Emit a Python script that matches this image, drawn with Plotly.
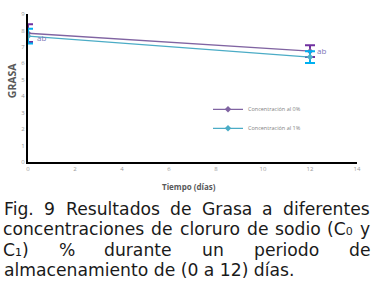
import plotly.graph_objects as go

# ---- data ----
dias = [0, 12]
grasa_c0 = [7.83, 6.74]
err_c0 = [0.54, 0.36]
grasa_c1 = [7.65, 6.38]
err_c1 = [0.45, 0.36]
series_names = ["Concentración al 0%", "Concentración al 1%"]
letras = ["ab", "ab"]
letras_x = [0.57, 12.5]
letras_y = [7.6, 6.76]
x_ticks = [0, 2, 4, 6, 8, 10, 12, 14]
y_ticks = [0, 1, 2, 3, 4, 5, 6, 7, 8, 9]

caption_lines = [
    "Fig. 9 Resultados de Grasa a diferentes",
    "concentraciones de cloruro de sodio (C₀ y",
    "C₁) % durante un periodo de",
    "almacenamiento de (0 a 12) días.",
]

W, H = 374, 284
L, R, T, B = 28, 17, 10, 122
PW, PH = W - L - R, H - T - B

def px_x(px):
    return (px - L) / PW

def px_y(py):
    return (H - B - py) / PH

# approximate DejaVu Sans advance widths (em) for justifying the caption
ADV = {' ': .318, 'F': .575, 'i': .278, 'g': .635, '.': .318, '9': .636, 'R': .695,
       'e': .615, 's': .521, 'u': .634, 'l': .278, 't': .392, 'a': .613, 'd': .635,
       'o': .612, 'G': .775, 'r': .411, 'f': .352, 'n': .634, 'c': .550, 'p': .635,
       'y': .592, '(': .390, ')': .390, 'C': .698, '%': .950, 'm': .974, 'í': .278,
       '0': .636, '1': .636, '2': .636, '₀': .401, '₁': .401}

def text_w(s, size):
    return sum(ADV.get(ch, .6) for ch in s) * size

fig = go.Figure()
fig.add_trace(go.Scatter(
    x=dias, y=grasa_c0, name=series_names[0], mode="lines+markers",
    line=dict(color="#8064A2", width=1.3),
    marker=dict(symbol="diamond", size=5, color="#8064A2"),
    error_y=dict(type="data", array=err_c0, visible=True, color="#7030A0",
                 thickness=2, width=5),
))
fig.add_trace(go.Scatter(
    x=dias, y=grasa_c1, name=series_names[1], mode="lines+markers",
    line=dict(color="#4BACC6", width=1.3),
    marker=dict(symbol="diamond", size=5, color="#4BACC6"),
    error_y=dict(type="data", array=err_c1, visible=True, color="#00B0F0",
                 thickness=2, width=5),
))

ann = []
for lx, ly, t in zip(letras_x, letras_y, letras):
    ann.append(dict(x=lx, y=ly, xref="x", yref="y", text=t, showarrow=False,
                    font=dict(family="Open Sans", size=8, color="#7B74B8")))

# axis titles
ann.append(dict(x=px_x(12), y=px_y(78), xref="paper", yref="paper", text="<b>GRASA</b>",
                textangle=-90, showarrow=False, xanchor="center", yanchor="middle",
                font=dict(family="Open Sans", size=10.5, color="#595959")))
ann.append(dict(x=px_x(189), y=px_y(187), xref="paper", yref="paper",
                text="<b>Tiempo (días)</b>", showarrow=False,
                xanchor="center", yanchor="middle",
                font=dict(family="Open Sans", size=8, color="#595959")))

# caption: justified text
FS = 17.2
LEFT, RIGHT = 3, 370
centers_y = [210, 231, 252, 273]
for i, (line, cy) in enumerate(zip(caption_lines, centers_y)):
    last = i == len(caption_lines) - 1
    if last:
        ann.append(dict(x=px_x(LEFT), y=px_y(cy), xref="paper", yref="paper",
                        xanchor="left", yanchor="middle", text=line, showarrow=False,
                        borderpad=0,
                        font=dict(family="DejaVu Sans", size=FS, color="#1a1a1a")))
        continue
    words = line.split(" ")
    widths = [text_w(w, FS) for w in words]
    gap = (RIGHT - LEFT - sum(widths)) / (len(words) - 1)
    xpos = LEFT
    for w, wd in zip(words, widths):
        ann.append(dict(x=px_x(xpos + wd / 2), y=px_y(cy), xref="paper", yref="paper",
                        xanchor="center", yanchor="middle", text=w, showarrow=False,
                        borderpad=0,
                        font=dict(family="DejaVu Sans", size=FS, color="#1a1a1a")))
        xpos += wd + gap

fig.update_layout(
    width=W, height=H,
    margin=dict(l=L, r=R, t=T, b=B, pad=0),
    paper_bgcolor="white", plot_bgcolor="white",
    showlegend=True,
    legend=dict(x=px_x(208), y=px_y(93), xanchor="left", yanchor="top",
                font=dict(family="Open Sans", size=5.5, color="#7f7f7f"),
                bgcolor="rgba(0,0,0,0)", tracegroupgap=0, itemwidth=30),
    annotations=ann,
    xaxis=dict(range=[0, 14], tickvals=x_ticks, showgrid=False, zeroline=False,
               showline=True, linecolor="black", linewidth=2, ticks="",
               tickfont=dict(family="Open Sans", size=6, color="#999999")),
    yaxis=dict(range=[0, 9], tickvals=y_ticks, showgrid=False, zeroline=False,
               showline=True, linecolor="black", linewidth=2, ticks="",
               tickfont=dict(family="Open Sans", size=6, color="#999999")),
)

fig.write_html("out.html", config={"displayModeBar": False},
               post_script="document.body.style.margin='0px';")
